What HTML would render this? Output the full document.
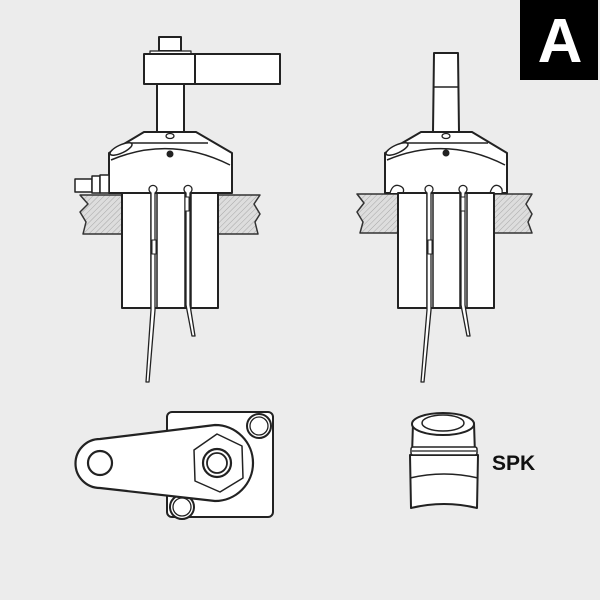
<!DOCTYPE html>
<html><head><meta charset="utf-8"><style>
html,body{margin:0;padding:0;background:#ececec;}
svg{display:block}
</style></head><body>
<svg width="600" height="600" viewBox="0 0 600 600" xmlns="http://www.w3.org/2000/svg">
<defs>
<pattern id="h" width="4" height="4" patternUnits="userSpaceOnUse" patternTransform="rotate(45)">
<rect width="4" height="4" fill="#ddd"/><line x1="0" y1="0" x2="0" y2="4" stroke="#999" stroke-width="0.8"/>
</pattern>
</defs>
<rect width="600" height="600" fill="#ececec"/>
<rect x="520" y="0" width="78" height="80" fill="#000"/>
<text x="560" y="62" font-family="Liberation Sans, sans-serif" font-weight="bold" font-size="62" fill="#fff" text-anchor="middle">A</text>

<g fill="#fff" stroke="#222" stroke-width="2" stroke-linejoin="round">
<!-- LEFT FIGURE -->
<path d="M80,195 L122,195 L122,234 L83,234 L86,222 L80,212 L88,204 Z" fill="url(#h)" stroke="#333" stroke-width="1.5"/>
<path d="M218,195 L260,195 L254,204 L260,214 L255,222 L258,234 L218,234 Z" fill="url(#h)" stroke="#333" stroke-width="1.5"/>
<rect x="159" y="37" width="22" height="14"/>
<rect x="150" y="51" width="41" height="3" stroke-width="1.2"/>
<rect x="144" y="54" width="136" height="30"/>
<line x1="195" y1="54" x2="195" y2="84"/>
<rect x="157" y="84" width="27" height="48"/>
<path d="M144,132 L196,132 L232,153 L232,193 L109,193 L109,153 Z"/>
<line x1="127" y1="143" x2="208" y2="143" stroke-width="1.5"/>
<path d="M111,160 Q170,135 230,165" fill="none" stroke-width="1.5"/>
<ellipse cx="121" cy="149" rx="12" ry="4" transform="rotate(-25 121 149)" stroke-width="1.5"/>
<ellipse cx="170" cy="136" rx="4" ry="2.5" stroke-width="1.3"/>
<circle cx="170" cy="154" r="3" fill="#222" stroke-width="1"/>
<rect x="75" y="179" width="17" height="13" stroke-width="1.5"/>
<rect x="92" y="176" width="8" height="17" stroke-width="1.5"/>
<rect x="100" y="175" width="9" height="18" stroke-width="1.5"/>
<rect x="122" y="193" width="96" height="115"/>
<line x1="151" y1="193" x2="151" y2="308" stroke-width="1.5"/>
<line x1="157" y1="193" x2="157" y2="308" stroke-width="1.5"/>
<line x1="185" y1="193" x2="185" y2="308" stroke-width="1.5"/>
<line x1="191" y1="193" x2="191" y2="308" stroke-width="1.5"/>
<path d="M150,192 A4,4 0 1 1 156,192 L155,193 L155,310 L149,382 L146,382 L151,310 L151,193 Z" stroke-width="1.3"/>
<path d="M185,192 A4,4 0 1 1 191,192 L190,193 L190,305 L195,336 L192,336 L186,305 L186,193 Z" stroke-width="1.3"/>
<rect x="152" y="240" width="4" height="14" stroke-width="1"/>
<rect x="185" y="197" width="4" height="14" stroke-width="1"/>

<!-- RIGHT FIGURE -->
<path d="M357,194 L398,194 L398,233 L360,233 L363,222 L357,212 L364,203 Z" fill="url(#h)" stroke="#333" stroke-width="1.5"/>
<path d="M494,194 L532,194 L526,204 L532,214 L528,222 L532,233 L494,233 Z" fill="url(#h)" stroke="#333" stroke-width="1.5"/>
<path d="M434,53 L458,53 L459,132 L433,132 Z"/>
<line x1="433" y1="87" x2="459" y2="87" stroke-width="1.5"/>
<path d="M421,132 L472,132 L507,153 L507,193 L385,193 L385,153 Z"/>
<line x1="403" y1="143" x2="488" y2="143" stroke-width="1.5"/>
<path d="M387,160 Q446,135 505,165" fill="none" stroke-width="1.5"/>
<ellipse cx="397" cy="149" rx="12" ry="4" transform="rotate(-25 397 149)" stroke-width="1.5"/>
<ellipse cx="446" cy="136" rx="4" ry="2.5" stroke-width="1.3"/>
<circle cx="446" cy="153" r="3" fill="#222" stroke-width="1"/>
<path d="M390,193 Q393,183 400,186 Q405,188 403,193" stroke-width="1.3"/>
<path d="M490,193 Q493,183 499,186 Q503,188 502,193" stroke-width="1.3"/>
<rect x="398" y="193" width="96" height="115"/>
<line x1="427" y1="193" x2="427" y2="308" stroke-width="1.5"/>
<line x1="433" y1="193" x2="433" y2="308" stroke-width="1.5"/>
<line x1="460" y1="193" x2="460" y2="308" stroke-width="1.5"/>
<line x1="467" y1="193" x2="467" y2="308" stroke-width="1.5"/>
<path d="M426,192 A4,4 0 1 1 432,192 L431,193 L431,310 L424,382 L421,382 L427,310 L427,193 Z" stroke-width="1.3"/>
<path d="M460,192 A4,4 0 1 1 466,192 L465,193 L465,305 L470,336 L467,336 L461,305 L461,193 Z" stroke-width="1.3"/>
<rect x="428" y="240" width="4" height="14" stroke-width="1"/>
<rect x="461" y="197" width="4" height="14" stroke-width="1"/>

<!-- BOTTOM LEFT -->
<rect x="167" y="412" width="106" height="105" rx="5"/>
<circle cx="259" cy="426" r="12"/><circle cx="259" cy="426" r="9" stroke-width="1.3"/>
<circle cx="182" cy="507" r="12"/><circle cx="182" cy="507" r="9" stroke-width="1.3"/>
<path d="M100,439 L215,425 A38,38 0 0 1 215,501 L100,488 A24.5,24.5 0 0 1 100,439 Z" stroke-width="2.2"/>
<circle cx="100" cy="463" r="12" stroke-width="2.2"/>
<path d="M217,434 L242,446 L243,478 L220,492 L195,481 L194,450 Z" stroke-width="1.5"/>
<circle cx="217" cy="463" r="14" stroke-width="2.2"/>
<circle cx="217" cy="463" r="10" stroke-width="1.8"/>

<!-- SPK -->
<path d="M410,455 L478,455 L477,508 Q444,500 411,508 Z"/>
<path d="M410,478 Q444,470 478,478" fill="none" stroke-width="1.5"/>
<path d="M413,423 L474,423 L475,455 L412,455 Z"/>
<rect x="411" y="447" width="66" height="8" rx="2" stroke-width="1.5"/>
<line x1="412" y1="451" x2="476" y2="451" stroke-width="1.2"/>
<ellipse cx="443" cy="424" rx="31" ry="11"/>
<ellipse cx="443" cy="423" rx="21" ry="8" stroke-width="1.5"/>
</g>
<text x="492" y="470" font-family="Liberation Sans, sans-serif" font-weight="bold" font-size="21" fill="#111">SPK</text>
</svg>
</body></html>
